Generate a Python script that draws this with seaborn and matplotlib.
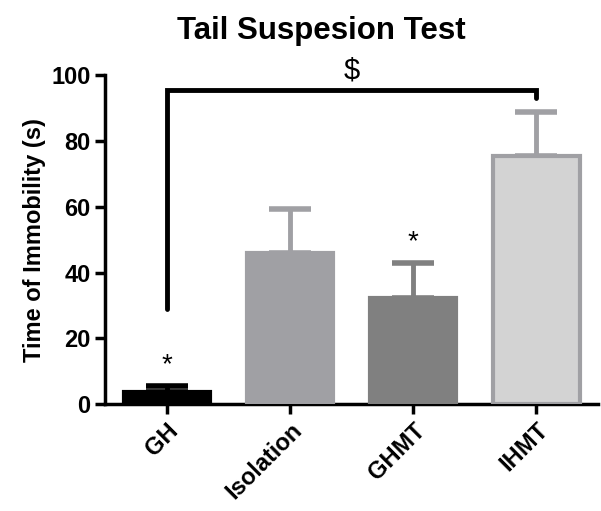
import pandas as pd
import matplotlib
matplotlib.use("Agg")
import matplotlib.pyplot as plt
import seaborn as sns

groups = ["GH", "Isolation", "GHMT", "IHMT"]
means = [3.8, 46.0, 32.2, 75.5]
sems = [1.6, 13.4, 10.7, 13.2]
fills = ["#000000", "#A0A0A4", "#808080", "#D3D3D3"]
edges = ["#000000", "#A0A0A4", "#808080", "#A0A0A4"]
stars = ["*", "", "*", ""]


def main():
    sns.set_style("ticks")
    plt.rcParams["font.family"] = ["Liberation Sans", "DejaVu Sans"]
    plt.rcParams["text.color"] = "black"
    plt.rcParams["axes.labelcolor"] = "black"
    plt.rcParams["xtick.color"] = "black"
    plt.rcParams["ytick.color"] = "black"
    plt.rcParams["axes.edgecolor"] = "black"

    data = pd.DataFrame({"group": groups, "time": means})

    fig = plt.figure(figsize=(6.01, 5.11), dpi=100)
    ax = fig.add_axes([0.175, 0.209, 0.82, 0.644])

    sns.barplot(data=data, x="group", y="time", hue="group",
                palette=dict(zip(groups, fills)), width=0.7,
                errorbar=None, legend=False, ax=ax)

    # bar outlines (IHMT has a grey border)
    for patch, ec in zip(ax.patches, edges):
        patch.set_edgecolor(ec)
        patch.set_linewidth(3)
        patch.set_zorder(3)

    # one-sided error bars, drawn behind the bars
    for i, (m, s) in enumerate(zip(means, sems)):
        bars = ax.errorbar(i, m, yerr=[[0], [s]], color=edges[i],
                           capsize=15, capthick=4, elinewidth=3.5, zorder=2)
        for cap in bars[1]:
            cap.set_solid_capstyle("round")
        if stars[i]:
            ax.text(i, m + s + 2.5, stars[i], ha="center", va="bottom",
                    fontsize=20, color="black")

    # significance bracket GH vs IHMT
    ax.plot([0, 0, 3, 3], [29, 95.5, 95.5, 93], color="black", lw=3.5,
            solid_joinstyle="miter", clip_on=False, zorder=4)
    ax.text(1.5, 97.3, "$", ha="center", va="bottom", fontsize=21)

    ax.set_xlim(-0.5, 3.5)
    ax.set_ylim(0, 100)
    ax.set_yticks([0, 20, 40, 60, 80, 100])
    ax.set_xlabel("")
    ax.set_ylabel("Time of Immobility (s)", fontsize=17, fontweight="bold")
    fig.text(0.535, 0.94, "Tail Suspesion Test", fontsize=22.5,
             fontweight="bold", ha="center", va="center")

    ax.tick_params(axis="both", width=2.5, length=7, labelsize=17, color="black")
    for lbl in ax.get_yticklabels():
        lbl.set_fontweight("bold")
    ax.set_xticks(range(len(groups)))
    ax.set_xticklabels(groups, rotation=45, ha="right", rotation_mode="anchor",
                       fontweight="bold", fontsize=17)

    sns.despine(ax=ax)
    ax.spines["left"].set_linewidth(2.5)
    ax.spines["bottom"].set_linewidth(2.5)

    fig.savefig("out.png", dpi=100)


if __name__ == "__main__":
    main()
